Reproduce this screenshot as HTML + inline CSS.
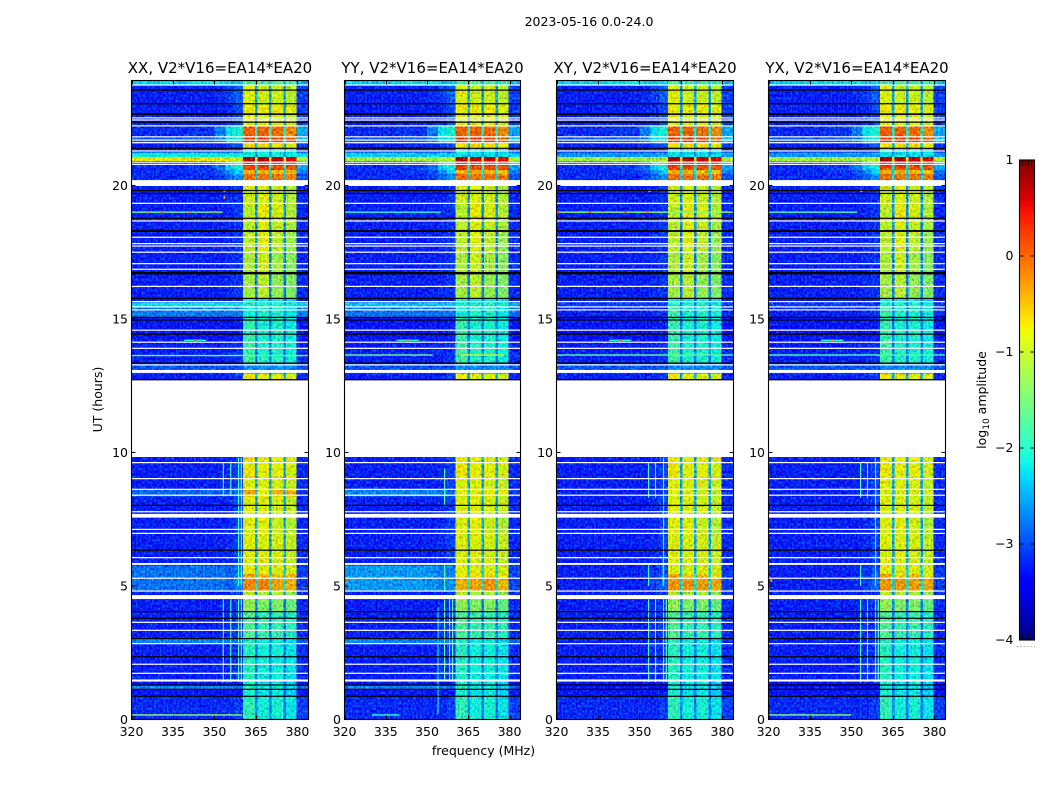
<!DOCTYPE html>
<html>
<head>
<meta charset="utf-8">
<title>2023-05-16 spectrogram</title>
<style>
html,body{margin:0;padding:0;background:#fff;}
svg{display:block;}
text{font-family:"DejaVu Sans","Liberation Sans",sans-serif;fill:#000;}
</style>
</head>
<body>
<svg id="chart" width="1050" height="800" viewBox="0 0 1050 800" xmlns="http://www.w3.org/2000/svg">
  <defs>
    <filter id="grain" x="0" y="0" width="100%" height="100%" color-interpolation-filters="sRGB">
      <feTurbulence type="fractalNoise" baseFrequency="0.55 0.38" numOctaves="1" seed="3" result="n"/>
      <feColorMatrix in="n" type="matrix" values="1 0 0 0 0  0 1 0 0 0  0 0 .4 0 .32  0 0 0 0 1" result="opaque"/>
      <feComposite in="SourceGraphic" in2="opaque" operator="arithmetic" k1="0" k2="1" k3="1" k4="-0.56"/>
    </filter>
    <linearGradient id="cbar-gradient" x1="0" y1="1" x2="0" y2="0"></linearGradient>
  </defs>
  <rect x="0" y="0" width="1050" height="800" fill="#fff"/>
  <text x="589" y="26" font-size="12.5" text-anchor="middle">2023-05-16 0.0-24.0</text>
  <text x="483.5" y="755" font-size="12.5" text-anchor="middle">frequency (MHz)</text>
  <text transform="translate(102,399.5) rotate(-90)" font-size="12.5" text-anchor="middle">UT (hours)</text>
  <text transform="translate(986,400) rotate(-90)" font-size="12.5" text-anchor="middle">log<tspan dy="3" font-size="9">10</tspan><tspan dy="-3"> amplitude</tspan></text>
  <g id="panels"></g>
  <g id="colorbar"></g>
</svg>
<script>
// ---- Data (log10 amplitude, UT hours, MHz) ----
const panelTitles = ['XX, V2*V16=EA14*EA20', 'YY, V2*V16=EA14*EA20', 'XY, V2*V16=EA14*EA20', 'YX, V2*V16=EA14*EA20'];
const xTicks = [320, 335, 350, 365, 380];
const yTicks = [0, 5, 10, 15, 20];
const colorbarTicks = [-4, -3, -2, -1, 0, 1];
const colorbarTickLabels = ['\u22124', '\u22123', '\u22122', '\u22121', '0', '1'];

const freqEdges = [320, 340, 350, 354, 357, 360.4, 364.7, 365.6, 369.8, 370.7, 374.9, 375.8, 379.6, 384];
const timeEdges = [
  0, .88, 1.12, 1.29, 1.44, 2.08, 2.35, 2.84, 3.03, 3.65,
  4.04, 4.51, 4.66, 4.81, 5.29, 5.47, 5.79, 6.35, 6.98, 7.56,
  7.70, 8.03, 8.37, 8.63, 9.02, 9.62, 9.83, 12.75, 12.98, 13.35,
  13.91, 14.14, 14.40, 15.07, 15.30, 15.48, 15.63, 15.77, 16.70, 17.50,
  18.30, 18.78, 19.27, 19.70, 19.97, 20.20, 20.45, 20.60, 20.77, 20.93,
  21.08, 21.25, 21.36, 21.62, 21.80, 22.22, 22.64, 23.05, 23.57, 23.76,
  23.93
];

// spectral profiles: one log10 amplitude per frequency band
const lowest = [-3.1,-3.1,-3.1,-3.1,-3.0,-1.9,-2.6,-2.1,-2.7,-2.05,-2.7,-2.2,-3.0];
const dark = [-3.2,-3.2,-3.2,-3.2,-3.2,-2.05,-2.7,-2.2,-2.7,-2.15,-2.8,-2.3,-3.2];
const teal = [-2.65,-2.65,-2.65,-2.7,-2.75,-1.95,-2.5,-2.15,-2.6,-2.1,-2.6,-2.25,-2.8];
const low = [-3.15,-3.15,-3.15,-3.1,-3.05,-1.95,-2.7,-2.1,-2.7,-2.1,-2.7,-2.2,-3.1];
const mid = [-3.15,-3.15,-3.15,-3.1,-3.05,-1.7,-2.7,-1.85,-2.7,-1.85,-2.7,-1.95,-3.1];
const mid2 = [-3.15,-3.15,-3.15,-3.1,-3.05,-1.3,-2.6,-1.4,-2.7,-1.4,-2.7,-1.55,-3.1];
const hi = [-3.15,-3.15,-3.15,-3.1,-3.05,-1.05,-2.6,-1.15,-2.6,-1.15,-2.6,-1.3,-3.1];
const orangeX = [-2.75,-2.75,-2.75,-2.85,-2.65,-.25,-2.2,-.25,-2.2,-.4,-2.2,-.45,-3.0];
const orangeY = [-2.55,-2.55,-2.6,-2.7,-2.6,-.45,-2.2,-.4,-2.2,-.3,-2.2,-.5,-2.95];
const orangeQ = [-3.15,-3.15,-3.1,-3.0,-2.8,-.3,-2.2,-.3,-2.2,-.35,-2.2,-.4,-3.0];
const orange2X = [-2.75,-2.75,-2.75,-2.85,-2.65,-.35,-2.2,-.5,-2.2,-.5,-2.2,-.5,-3.0];
const orange2Y = [-2.55,-2.55,-2.6,-2.7,-2.6,-.75,-2.2,-.7,-2.2,-.65,-2.2,-.75,-2.95];
const orange2Q = [-3.15,-3.15,-3.1,-3.0,-2.8,-.4,-2.2,-.6,-2.2,-.5,-2.2,-.7,-3.0];
const yelX = [-2.75,-2.75,-2.75,-2.85,-2.75,-.8,-2.3,-.85,-2.3,-.85,-2.3,-.9,-3.0];
const yelY = [-2.55,-2.55,-2.6,-2.7,-2.7,-.8,-2.3,-.85,-2.3,-.85,-2.3,-.9,-2.95];
const yelQ = [-3.15,-3.15,-3.1,-3.05,-2.9,-.8,-2.3,-.85,-2.3,-.85,-2.3,-.9,-3.05];
const yel1 = [-3.15,-3.15,-3.15,-3.1,-3.0,-.85,-2.5,-.85,-2.5,-.9,-2.5,-1.0,-3.1];
const yel2 = [-3.15,-3.15,-3.15,-3.1,-3.0,-.85,-2.5,-.8,-2.5,-.95,-2.5,-1.1,-3.1];
const yel3 = [-3.15,-3.15,-3.15,-3.1,-3.0,-.75,-2.5,-.8,-2.5,-.8,-2.5,-.9,-3.1];
const spotX = [-2.8,-2.8,-2.85,-2.9,-2.8,-.45,-2.3,-.8,-2.3,-.5,-2.3,-.45,-3.0];
const spotY = [-2.65,-2.65,-2.65,-2.75,-2.8,-.8,-2.3,-.8,-2.3,-.75,-2.3,-.8,-3.0];
const blueRow = [-2.9,-2.9,-2.9,-2.9,-2.9,-2.6,-2.7,-2.6,-2.7,-2.6,-2.7,-2.6,-2.9];
const cy = [-3.15,-3.15,-3.15,-3.1,-3.05,-1.8,-2.7,-2.0,-2.7,-2.0,-2.7,-2.1,-3.1];
const cy2 = [-3.2,-3.2,-3.2,-3.2,-3.15,-1.85,-2.7,-2.05,-2.7,-2.0,-2.7,-2.15,-3.2];
const lightX = [-2.7,-2.7,-2.7,-2.7,-2.7,-2.1,-2.5,-2.0,-2.5,-2.0,-2.5,-2.2,-2.7];
const lightY = [-2.75,-2.75,-2.75,-2.75,-2.75,-2.1,-2.5,-2.0,-2.5,-2.0,-2.5,-2.2,-2.75];
const cyanX = [-2.2,-2.2,-2.2,-2.2,-2.2,-2.0,-2.3,-2.0,-2.3,-2.0,-2.3,-2.1,-2.3];
const cyanY = [-2.35,-2.35,-2.35,-2.35,-2.35,-2.0,-2.3,-2.0,-2.3,-2.0,-2.3,-2.1,-2.45];
const blueQ = [-3.0,-3.0,-3.0,-3.0,-3.0,-2.0,-2.6,-2.0,-2.6,-2.0,-2.6,-2.1,-3.0];
const lime = [-3.15,-3.15,-3.15,-3.1,-3.05,-1.2,-2.7,-1.05,-2.7,-1.3,-2.7,-1.4,-3.1];
const lime2 = [-3.15,-3.15,-3.15,-3.1,-3.05,-1.15,-2.7,-.95,-2.7,-1.2,-2.7,-1.35,-3.1];
const lime3 = [-3.15,-3.15,-3.15,-3.1,-3.05,-1.05,-2.7,-.85,-2.7,-1.05,-2.7,-1.25,-3.1];
const yg = [-3.15,-3.15,-3.15,-3.1,-3.05,-1.05,-2.6,-.85,-2.6,-1.0,-2.6,-1.15,-3.1];
const yl = [-3.15,-3.15,-3.15,-3.1,-3.05,-1.05,-2.6,-.75,-2.6,-.9,-2.6,-1.1,-3.1];
const yl2 = [-3.15,-3.15,-3.15,-3.1,-3.05,-.95,-2.6,-.85,-2.6,-.95,-2.6,-1.1,-3.1];
const hotA = [-3.1,-3.1,-3.0,-2.8,-2.6,-.1,-2.3,-.15,-2.3,-.15,-2.3,-.2,-2.9];
const hotB = [-3.1,-3.05,-2.9,-2.6,-2.3,-.45,-2.2,-.45,-2.2,-.5,-2.2,-.55,-2.7];
const hotC = [-3.1,-3.0,-2.75,-2.3,-2.1,.1,-2.1,.1,-2.1,.05,-2.1,0,-2.5];
const hotG = [-3.05,-2.95,-2.7,-2.2,-2.0,.45,-2.1,.4,-2.1,.35,-2.1,.25,-2.4];
const redX = [-.75,-.75,-.8,-.85,-.95,.8,-.9,.75,-1.0,.7,-1.0,.55,-1.1];
const redY = [-1.2,-1.2,-1.2,-1.15,-1.05,.75,-.9,.7,-1.0,.65,-1.0,.5,-1.1];
const redQ = [-1.2,-1.2,-1.2,-1.15,-1.05,.8,-.9,.75,-1.0,.65,-1.0,.55,-1.1];
const cyanTopX = [-2.15,-2.15,-2.15,-2.15,-2.15,-2.1,-2.6,-2.1,-2.6,-2.1,-2.6,-2.1,-2.2];
const cyanTopY = [-2.3,-2.3,-2.3,-2.3,-2.3,-2.2,-2.6,-2.2,-2.6,-2.2,-2.6,-2.2,-2.3];
const cyanTopQ = [-2.55,-2.55,-2.55,-2.55,-2.5,-2.2,-2.6,-2.2,-2.6,-2.2,-2.6,-2.2,-2.55];
const hotD = [-3.15,-3.15,-3.1,-3.0,-2.9,-.7,-2.4,-.7,-2.4,-.7,-2.4,-.8,-3.0];
const hotE = [-2.9,-2.85,-2.65,-2.2,-2.05,.2,-2.0,.2,-2.0,.15,-2.0,.0,-2.3];
const hotF = [-3.1,-3.05,-2.7,-2.2,-2.05,-.05,-2.1,-.05,-2.1,-.1,-2.1,-.25,-2.5];
const upper1 = [-3.15,-3.15,-3.15,-3.1,-2.95,-.85,-2.5,-.85,-2.5,-.85,-2.5,-.95,-3.0];
const upper2 = [-3.15,-3.15,-3.15,-3.1,-2.95,-.75,-2.5,-.75,-2.5,-.75,-2.5,-.85,-3.0];
const upper3 = [-3.15,-3.15,-3.1,-3.0,-2.85,-.85,-2.5,-.95,-2.5,-.95,-2.5,-1.05,-3.0];
const topBand = [-2.3,-2.2,-2.2,-2.3,-2.3,-1.7,-2.4,-1.7,-2.4,-1.7,-2.4,-1.8,-2.4];

// per-panel time rows: one spectral profile per time interval (null = no data)
const xxRows = [
  lowest,dark,teal,dark,low,low,low,teal,mid,mid,
  mid2,hi,hi,orangeX,orange2X,yelX,yel1,yel1,yel2,yel2,
  yel1,yel1,spotX,yel1,yel3,yel3,null,yel3,blueRow,cy,
  cy,cy2,cy2,lightX,lightX,cyanX,dark,lime,lime2,lime3,
  yg,yl,yl2,yl2,yl2,hotA,hotB,hotC,hotG,redX,
  cyanTopX,dark,hotD,hotE,hotF,upper1,upper2,upper3,upper3,topBand
];
const yyRows = [
  lowest,dark,teal,dark,low,low,low,teal,mid,mid,
  mid2,hi,hi,orangeY,orange2Y,yelY,yel1,yel1,yel2,yel2,
  yel1,yel1,spotY,yel1,yel3,yel3,null,yel3,blueRow,cy,
  cy,cy2,cy2,lightY,lightY,cyanY,dark,lime,lime2,lime3,
  yg,yl,yl2,yl2,yl2,hotA,hotB,hotC,hotG,redY,
  cyanTopY,dark,hotD,hotE,hotF,upper1,upper2,upper3,upper3,topBand
];
const xyRows = [
  lowest,dark,dark,dark,low,low,low,low,mid,mid,
  mid2,hi,hi,orangeQ,orange2Q,yelQ,yel1,yel1,yel2,yel2,
  yel1,yel1,yel1,yel1,yel3,yel3,null,yel3,blueRow,cy,
  cy,cy2,cy2,cy,cy,blueQ,dark,lime,lime2,lime3,
  yg,yl,yl2,yl2,yl2,hotA,hotB,hotC,hotG,redQ,
  cyanTopQ,dark,hotD,hotE,hotF,upper1,upper2,upper3,upper3,topBand
];
const yxRows = [
  lowest,dark,dark,dark,low,low,low,low,mid,mid,
  mid2,hi,hi,orangeQ,orange2Q,yelQ,yel1,yel1,yel2,yel2,
  yel1,yel1,yel1,yel1,yel3,yel3,null,yel3,blueRow,cy,
  cy,cy2,cy2,cy,cy,blueQ,dark,lime,lime2,lime3,
  yg,yl,yl2,yl2,yl2,hotA,hotB,hotC,hotG,redQ,
  cyanTopQ,dark,hotD,hotE,hotF,upper1,upper2,upper3,upper3,topBand
];

// narrowband interference: [MHz, start UT, end UT, value]
const xxVerticalSpurs = [[353.2,1.4,4.5,-1.9],[355.9,1.4,4.5,-1.8],[358.7,1.4,4.5,-1.8],[359.7,1.4,4.5,-1.8],[353.2,8.4,9.6,-1.9],[355.9,8.4,9.6,-1.9],[358.7,5.0,9.8,-1.9],[359.7,5.0,9.8,-1.9]];
const yyVerticalSpurs = [[354,0.2,4.2,-2.2],[356.4,1.5,4.5,-1.7],[358.2,1.5,4.5,-1.8],[359.3,1.5,4.5,-1.8],[356.4,4.8,5.8,-1.8],[356.4,8,9.4,-1.8]];
const xyVerticalSpurs = [[353.3,1.4,4.5,-1.9],[355.8,1.4,4.5,-2.0],[358.7,1.4,4.5,-1.8],[359.7,1.4,4.5,-1.7],[353.3,5,5.8,-2.0],[358.7,5,9.8,-2.0],[353.3,8.3,9.6,-1.9],[355.8,8.3,9.6,-2.1]];
const yxVerticalSpurs = [[353.3,1.4,4.5,-1.9],[355.8,1.4,4.5,-2.0],[358.7,1.4,4.5,-1.8],[359.7,1.4,4.5,-1.7],[353.3,5,5.8,-2.0],[358.7,5,9.8,-2.0],[353.3,8.3,9.6,-1.9],[355.8,8.3,9.6,-2.1]];

// broadband spikes: [UT, start MHz, end MHz, value]
const xxHorizontalSpurs = [[19.0,320,353,-1.6],[13.63,320,384,-1.7],[0.17,320,360,-1.4],[14.2,339,347,-2.0]];
const yyHorizontalSpurs = [[19.0,320,355,-2.0],[13.65,320,352,-1.6],[13.65,362,378,-1.0],[0.17,330,340,-2.0],[14.2,339,347,-2.0]];
const xyHorizontalSpurs = [[19.0,320,384,-1.4],[13.65,320,384,-1.7],[14.2,339,347,-2.0]];
const yxHorizontalSpurs = [[19.0,320,352,-1.8],[13.65,320,384,-1.8],[0.17,320,350,-1.5],[14.2,339,347,-2.0]];

// isolated bright samples: [MHz, UT, value]
const xxPoints = [[343,14.2,0.1],[353.6,19.55,-0.4],[353.6,19.8,-0.4],[326,19,0],[331,19,0.2],[341,19,0.1],[350,19,0]];
const yyPoints = [[343,14.2,0.1],[321,5.2,0]];
const xyPoints = [[343,14.2,0.2],[320.6,19,0.2],[332,19,0.3],[345,19,0.3],[353,19,0.2],[353.6,19.8,-0.7],[343,16.2,0.2]];
const yxPoints = [[343,14.2,0.1],[343,16.2,0.2],[353.6,19.8,-1.0],[321,5.2,-0.3]];

// rows without data and flagged rows, shared across the four products (UT hours)
const whiteLines = [23.76,22.53,22.45,22.23,21.82,21.70,21.60,21.29,20.87,20.79,19.33,18.67,18.06,17.82,17.73,17.50,17.07,16.86,16.22,15.65,15.45,15.34,14.58,14.13,13.90,13.28,9.62,9.02,8.62,8.40,7.78,7.12,6.97,6.06,5.29,4.81,3.64,3.34,2.84,2.07,1.73];
const whiteBandStarts = [19.98,12.98,9.83,7.56,5.79,4.51,1.42];
const whiteBandEnds = [20.20,13.09,12.75,7.70,5.86,4.66,1.50];
const blackLines = [23.57,23.06,22.37,21.39,19.81,19.70,18.77,15.77,15.06,14.96,14.43,8.02,6.34,4.04,3.79,3.03,2.35,1.29,1.13,0.87];
const blackBandStarts = [22.64,18.26,16.67,13.32,12.70];
const blackBandEnds = [22.70,18.33,16.76,13.37,12.75];

const xxSeries = {rows: xxRows, vSpurs: xxVerticalSpurs, hSpurs: xxHorizontalSpurs, points: xxPoints};
const yySeries = {rows: yyRows, vSpurs: yyVerticalSpurs, hSpurs: yyHorizontalSpurs, points: yyPoints};
const xySeries = {rows: xyRows, vSpurs: xyVerticalSpurs, hSpurs: xyHorizontalSpurs, points: xyPoints};
const yxSeries = {rows: yxRows, vSpurs: yxVerticalSpurs, hSpurs: yxHorizontalSpurs, points: yxPoints};
const allSeries = [xxSeries, yySeries, xySeries, yxSeries];
const panelKeys = ['xx', 'yy', 'xy', 'yx'];

// ---- Layout and axis functions ----
const NS = 'http://www.w3.org/2000/svg';
const layoutLeft = [131.5, 344.5, 556.5, 768.5];
const layoutWidth = [177, 176, 177, 177];
const plotTop = 80.5, plotBottom = 719.5;
const freqMin = 320, freqMax = 384, timeMin = 0, timeMax = 23.93;
const vMin = -4, vMax = 1;

function xScale(p, f) { return layoutLeft[p] + (f - freqMin) / (freqMax - freqMin) * layoutWidth[p]; }
function yScale(t) { return plotBottom - (t - timeMin) / (timeMax - timeMin) * (plotBottom - plotTop); }
function lerp(stops, x) {
  for (let i = 1; i < stops.length; i++) {
    if (x <= stops[i][0]) {
      const a = stops[i - 1], b = stops[i];
      return a[1] + (b[1] - a[1]) * (x - a[0]) / (b[0] - a[0]);
    }
  }
  return stops[stops.length - 1][1];
}
const jetR = [[0,0],[.35,0],[.66,1],[.89,1],[1,.5]];
const jetG = [[0,0],[.125,0],[.375,1],[.64,1],[.91,0],[1,0]];
const jetB = [[0,.5],[.11,1],[.34,1],[.65,0],[1,0]];
function colorOf(v) {
  const t = Math.max(0, Math.min(1, (v - vMin) / (vMax - vMin)));
  return 'rgb(' + Math.round(255 * lerp(jetR, t)) + ',' + Math.round(255 * lerp(jetG, t)) + ',' + Math.round(255 * lerp(jetB, t)) + ')';
}
function make(tag, attrs, parent, text) {
  const el = document.createElementNS(NS, tag);
  for (const k in attrs) el.setAttribute(k, attrs[k]);
  if (text !== undefined) el.textContent = text;
  parent.appendChild(el);
  return el;
}

const panelsRoot = document.getElementById('panels');
allSeries.forEach(function (series, p) {
  const key = panelKeys[p];
  const left = layoutLeft[p], right = left + layoutWidth[p];
  const panel = make('g', {}, panelsRoot);
  
  

  // heatmap cells
  const heat = make('g', {filter: 'url(#grain)', 'shape-rendering': 'crispEdges'}, panel);
  
  
  series.rows.forEach(function (profile, r) {
    if (!profile) return;
    const y0 = yScale(timeEdges[r + 1]), y1 = yScale(timeEdges[r]);
    profile.forEach(function (value, c) {
      const x0 = xScale(p, freqEdges[c]), x1 = xScale(p, freqEdges[c + 1]);
      const cell = make('rect', {x: x0, y: y0, width: x1 - x0, height: y1 - y0 + .5, fill: colorOf(value)}, heat);
      
      
    });
  });

  // interference marks
  series.vSpurs.forEach(function (s) {
    const mark = make('rect', {x: xScale(p, s[0]) - .6, y: yScale(s[2]), width: 1.2, height: yScale(s[1]) - yScale(s[2]), fill: colorOf(s[3])}, panel);
    
    
  });
  series.hSpurs.forEach(function (s) {
    const mark = make('rect', {x: xScale(p, s[1]), y: yScale(s[0]) - .7, width: xScale(p, s[2]) - xScale(p, s[1]), height: 1.4, fill: colorOf(s[3])}, panel);
    
    
  });
  series.points.forEach(function (s) {
    const mark = make('rect', {x: xScale(p, s[0]) - 1, y: yScale(s[1]) - 1.2, width: 2, height: 2.4, fill: colorOf(s[2])}, panel);
    
    
  });

  // flagged rows
  whiteBandStarts.forEach(function (t0, i) {
    const band = make('rect', {x: left, y: yScale(whiteBandEnds[i]), width: right - left, height: yScale(t0) - yScale(whiteBandEnds[i]), fill: '#fff'}, panel);
    
    
  });
  whiteLines.forEach(function (t) {
    const line = make('rect', {x: left, y: yScale(t) - .6, width: right - left, height: 1.2, fill: '#fff'}, panel);
    
    
  });
  blackBandStarts.forEach(function (t0, i) {
    const band = make('rect', {x: left, y: yScale(blackBandEnds[i]), width: right - left, height: yScale(t0) - yScale(blackBandEnds[i]), fill: '#000'}, panel);
    
    
  });
  blackLines.forEach(function (t) {
    const line = make('rect', {x: left, y: yScale(t) - .6, width: right - left, height: 1.2, fill: '#000'}, panel);
    
    
  });

  // axes frame
  const frame = make('rect', {x: left, y: plotTop, width: right - left, height: plotBottom - plotTop, fill: 'none', stroke: '#000', 'stroke-width': 1.1}, panel);
  
  

  // title
  const title = make('text', {x: (left + right) / 2, y: 73, 'font-size': 15, 'text-anchor': 'middle'}, panel, panelTitles[p]);
  
  

  // x ticks
  xTicks.forEach(function (f) {
    const x = Math.round(xScale(p, f)) + .5;
    const tickB = make('line', {x1: x, x2: x, y1: plotBottom, y2: plotBottom - 4, stroke: '#000', 'stroke-width': 1}, panel);
    
    
    const tickT = make('line', {x1: x, x2: x, y1: plotTop, y2: plotTop + 4, stroke: '#000', 'stroke-width': 1}, panel);
    
    
    const lab = make('text', {x: xScale(p, f), y: 736, 'font-size': 12.5, 'text-anchor': 'middle'}, panel, String(f));
    
    
  });

  // y ticks
  yTicks.forEach(function (t) {
    const y = yScale(t);
    const tickL = make('line', {x1: left, x2: left + 4, y1: y, y2: y, stroke: '#000', 'stroke-width': 1}, panel);
    
    
    const tickR = make('line', {x1: right, x2: right - 4, y1: y, y2: y, stroke: '#000', 'stroke-width': 1}, panel);
    
    
    const lab = make('text', {x: left - 3.5, y: y + 4.5, 'font-size': 12.5, 'text-anchor': 'end'}, panel, String(t));
    
    
  });
});

// ---- Colorbar ----
const cbLeft = 1019.5, cbRight = 1034.5, cbTop = 160, cbBottom = 640;
function cbY(v) { return cbBottom - (v - vMin) / (vMax - vMin) * (cbBottom - cbTop); }
const gradient = document.getElementById('cbar-gradient');
for (let i = 0; i <= 60; i++) {
  make('stop', {offset: (i / 60), 'stop-color': colorOf(vMin + (vMax - vMin) * i / 60)}, gradient);
}
const cbRoot = document.getElementById('colorbar');
const cbFill = make('rect', {x: cbLeft, y: cbTop, width: cbRight - cbLeft, height: cbBottom - cbTop, fill: 'url(#cbar-gradient)', stroke: '#000', 'stroke-width': 1.1}, cbRoot);


colorbarTicks.forEach(function (v, i) {
  const y = cbY(v);
  const tickL = make('line', {x1: cbLeft, x2: cbLeft + 4, y1: y, y2: y, stroke: '#000', 'stroke-width': 1}, cbRoot);
  
  
  const tickR = make('line', {x1: cbRight, x2: cbRight - 4, y1: y, y2: y, stroke: '#000', 'stroke-width': 1}, cbRoot);
  
  
  const lab = make('text', {x: 1013.5, y: y + 4, 'font-size': 12.5, 'text-anchor': 'end'}, cbRoot, colorbarTickLabels[i]);
  
  
});
[cbLeft + 3, cbLeft + 6, cbLeft + 9, cbLeft + 12].forEach(function (x) {
  const top = make('line', {x1: x, x2: x, y1: cbTop, y2: cbTop + 6, stroke: '#000', 'stroke-width': .8}, cbRoot);
  
  
  const bot = make('line', {x1: x, x2: x, y1: cbBottom, y2: cbBottom - 6, stroke: '#000', 'stroke-width': .8}, cbRoot);
  
  
});
const dots = make('line', {x1: 1017, x2: 1036, y1: 646.5, y2: 646.5, stroke: '#999', 'stroke-width': 1, 'stroke-dasharray': '1 2.4'}, cbRoot);


</script>
</body>
</html>
